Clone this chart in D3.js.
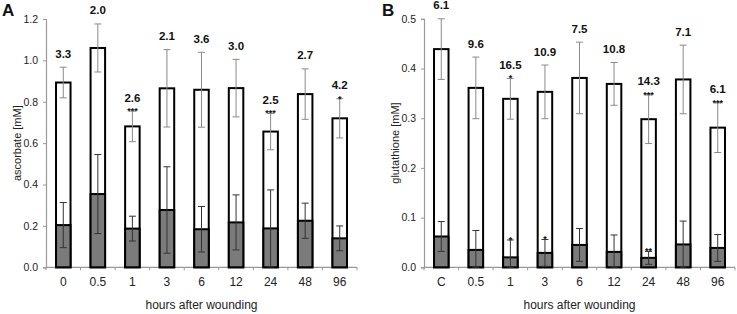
<!DOCTYPE html>
<html><head><meta charset="utf-8">
<script src="https://cdn.jsdelivr.net/npm/d3@7"></script>
<style>body{margin:0;background:#fff}svg{display:block;font-family:"Liberation Sans",Arial,sans-serif}</style>
</head><body><svg id="c" width="737" height="314"></svg>
<script>
// ---- data ----
const categoriesA = ["0","0.5","1","3","6","12","24","48","96"];
const totalA      = [0.893,1.060,0.681,0.865,0.858,0.866,0.656,0.837,0.720];
const totalSdA    = [0.074,0.116,0.074,0.187,0.181,0.139,0.088,0.122,0.095];
const oxA         = [0.204,0.354,0.187,0.277,0.184,0.217,0.188,0.225,0.140];
const oxSdA       = [0.109,0.191,0.060,0.209,0.110,0.133,0.186,0.085,0.060];
const ratioA      = ["3.3","2.0","2.6","2.1","3.6","3.0","2.5","2.7","4.2"];
const starsTotalA = ["","","***","","","","***","","*"];
const starsOxA    = ["","","","","","","","",""];
const yTicksA     = [0,0.2,0.4,0.6,0.8,1.0,1.2];

const categoriesB = ["C","0.5","1","3","6","12","24","48","96"];
const totalB      = [0.439,0.361,0.339,0.353,0.381,0.369,0.298,0.378,0.281];
const totalSdB    = [0.061,0.062,0.041,0.054,0.072,0.043,0.049,0.069,0.050];
const oxB         = [0.062,0.035,0.020,0.029,0.045,0.031,0.019,0.046,0.039];
const oxSdB       = [0.030,0.039,0.035,0.027,0.033,0.034,0.013,0.047,0.027];
const ratioB      = ["6.1","9.6","16.5","10.9","7.5","10.8","14.3","7.1","6.1"];
const starsTotalB = ["","","*","","","","***","","***"];
const starsOxB    = ["","","*","*","","","**","",""];
const yTicksB     = [0,0.1,0.2,0.3,0.4,0.5];

const svg = d3.select("#c");

function panel(o){
  const g = svg.append("g");
  const x = d3.scaleBand().domain(o.cats).range([o.x0,o.x1]).paddingInner(0.58).paddingOuter(0.29);
  const y = d3.scaleLinear().domain([0,o.ymax]).range([o.y0,o.y1]);
  const axisCol = "#999";
  // y axis
  const ya = g.append("g").attr("transform",`translate(${o.x0},0)`)
    .call(d3.axisLeft(y).tickValues(o.yticks).tickSize(3).tickPadding(5).tickFormat(d3.format(".1f")));
  ya.select(".domain").attr("stroke",axisCol).attr("stroke-width",1.2);
  ya.selectAll(".tick line").attr("stroke",axisCol);
  ya.selectAll("text").attr("font-size",10.5).attr("fill","#222").attr("font-family","Liberation Sans, Arial, sans-serif");
  // x axis line & boundary ticks
  g.append("line").attr("x1",o.x0).attr("x2",o.x1).attr("y1",o.y0).attr("y2",o.y0).attr("stroke",axisCol).attr("stroke-width",1.2);
  const step = x.step();
  d3.range(o.cats.length+1).forEach(i=>{
    const xx = o.x0 + i*step;
    g.append("line").attr("x1",xx).attr("x2",xx).attr("y1",o.y0).attr("y2",o.y0+3).attr("stroke",axisCol);
  });
  g.selectAll(".xl").data(o.cats).join("text")
    .attr("x",d=>x(d)+x.bandwidth()/2).attr("y",o.y0+19)
    .attr("text-anchor","middle").attr("font-size",12).attr("fill","#222").text(d=>d);
  // bars
  const bw = x.bandwidth();
  o.cats.forEach((c,i)=>{
    const cx = x(c)+bw/2;
    g.append("rect").attr("x",x(c)).attr("width",bw).attr("y",y(o.total[i])).attr("height",y(0)-y(o.total[i]))
      .attr("fill","#fff").attr("stroke","#000").attr("stroke-width",2);
    g.append("rect").attr("x",x(c)).attr("width",bw).attr("y",y(o.ox[i])).attr("height",y(0)-y(o.ox[i]))
      .attr("fill","#7b7b7b").attr("stroke","#000").attr("stroke-width",2);
  });
  // error bars
  function eb(m,s,col,i){
    const cx = x(o.cats[i])+bw/2;
    const hi = y(m+s), lo = y(Math.max(0,m-s));
    g.append("line").attr("x1",cx).attr("x2",cx).attr("y1",hi).attr("y2",lo).attr("stroke",col).attr("stroke-width",1);
    [hi,lo].forEach(v=>g.append("line").attr("x1",cx-3.5).attr("x2",cx+3.5).attr("y1",v).attr("y2",v).attr("stroke",col).attr("stroke-width",1));
    return hi;
  }
  o.cats.forEach((c,i)=>{
    const cx = x(c)+bw/2;
    const top = eb(o.total[i],o.totalSd[i],"#8a8a8a",i);
    const otop = eb(o.ox[i],o.oxSd[i],"#333",i);
    g.append("text").attr("x",cx).attr("y",top-9.5).attr("text-anchor","middle")
      .attr("font-size",11.5).attr("font-weight","bold").attr("fill","#111").text(o.ratio[i]);
    if(o.starsT[i]) g.append("text").attr("x",cx).attr("y",top+3).attr("text-anchor","middle")
      .attr("font-size",9).attr("font-weight","bold").attr("fill","#111").text(o.starsT[i]);
    if(o.starsO[i]) g.append("text").attr("x",cx).attr("y",otop+3).attr("text-anchor","middle")
      .attr("font-size",9).attr("font-weight","bold").attr("fill","#111").text(o.starsO[i]);
  });
  // axis titles
  g.append("text").attr("transform",`translate(${o.x0-25},${(o.y0+o.y1)/2}) rotate(-90)`)
    .attr("text-anchor","middle").attr("font-size",11).attr("fill","#222").text(o.ylabel);
  g.append("text").attr("x",(o.x0+o.x1)/2).attr("y",309).attr("text-anchor","middle")
    .attr("font-size",12).attr("fill","#222").text("hours after wounding");
  g.append("text").attr("x",o.letterX).attr("y",16).attr("font-size",17).attr("font-weight","bold").attr("fill","#111").text(o.letter);
}

panel({cats:categoriesA,total:totalA,totalSd:totalSdA,ox:oxA,oxSd:oxSdA,ratio:ratioA,starsT:starsTotalA,starsO:starsOxA,
  yticks:yTicksA,ymax:1.2,x0:46,x1:357,y0:267.3,y1:19,ylabel:"ascorbate [mM]",letter:"A",letterX:2});
panel({cats:categoriesB,total:totalB,totalSd:totalSdB,ox:oxB,oxSd:oxSdB,ratio:ratioB,starsT:starsTotalB,starsO:starsOxB,
  yticks:yTicksB,ymax:0.5,x0:424,x1:735,y0:267.3,y1:18.8,ylabel:"glutathione [mM]",letter:"B",letterX:382});
</script></body></html>
